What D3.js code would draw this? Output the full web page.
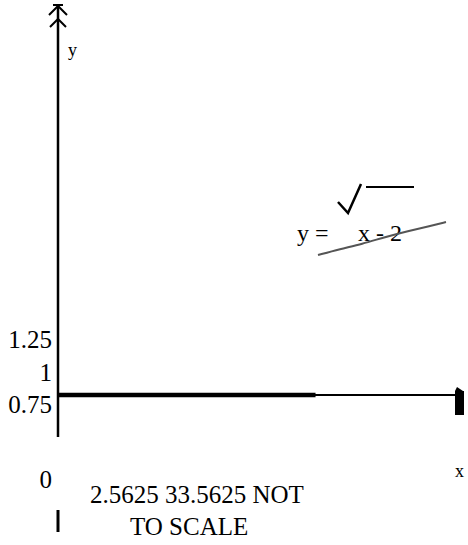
<!DOCTYPE html>
<html>
<head>
<meta charset="utf-8">
<script src="https://cdn.jsdelivr.net/npm/d3@7"></script>
<style>
  body { margin: 0; background: #fff; }
  text { font-family: 'Liberation Serif', 'DejaVu Serif', serif; fill: #000; }
</style>
</head>
<body>
<script>
const width = 468;
const height = 545;

// tick values
const yTicks = [1.25, 1, 0.75];
const xTicks = [0, 2.5625, 3, 3.5625];
// the bold part of the x axis: from 0 to the first x tick
const domainStart = 0;
const domainEnd = 2.5625;
const equation = ['y =', 'x - 2'];

const x = d3.scaleLinear().domain([0, 4]).range([58, 460]);
const y = d3.scaleLinear().domain([0.75, 1.25]).range([404, 339]);
const axisY = 395;

const svg = d3.select('body').append('svg')
  .attr('width', width)
  .attr('height', height);

// y axis, with its stacked arrow head
svg.append('line')
  .attr('x1', x(0)).attr('x2', x(0))
  .attr('y1', 5).attr('y2', 437)
  .attr('stroke', '#000').attr('stroke-width', 2.5);

const arrow = svg.append('g')
  .attr('fill', 'none').attr('stroke', '#000').attr('stroke-width', 2);
arrow.append('line')
  .attr('x1', x(0) - 5).attr('x2', x(0) + 5)
  .attr('y1', 5).attr('y2', 5);
arrow.append('path')
  .attr('d', `M${x(0) - 9},15 L${x(0)},6 L${x(0) + 9},15`);
arrow.append('path')
  .attr('d', `M${x(0) - 8},27 L${x(0)},19 L${x(0) + 8},27`);

svg.append('text')
  .attr('x', 68).attr('y', 56)
  .attr('font-size', 18)
  .text('y');

// x axis: thin line with bold stretch over the domain
svg.append('line')
  .attr('x1', x(0)).attr('x2', x(4))
  .attr('y1', axisY).attr('y2', axisY)
  .attr('stroke', '#000').attr('stroke-width', 2);
svg.append('line')
  .attr('x1', x(domainStart)).attr('x2', x(domainEnd))
  .attr('y1', axisY).attr('y2', axisY)
  .attr('stroke', '#000').attr('stroke-width', 4.5);
svg.append('rect')
  .attr('x', x(4) - 5).attr('y', axisY - 4)
  .attr('width', 9).attr('height', 24)
  .attr('fill', '#000');
svg.append('path')
  .attr('d', `M${x(4) - 5},${axisY - 4} L${x(4) - 3},${axisY - 8} L${x(4) + 3},${axisY - 4}Z`)
  .attr('fill', '#000');

svg.append('text')
  .attr('x', 455).attr('y', 477)
  .attr('font-size', 18)
  .text('x');

// y tick labels
svg.selectAll('.ytick')
  .data(yTicks)
  .enter().append('text')
    .attr('class', 'ytick')
    .attr('x', 52)
    .attr('y', d => y(d) + 9)
    .attr('text-anchor', 'end')
    .attr('font-size', 25)
    .text(d => d);

// x tick labels, crammed under the axis
svg.append('text')
  .attr('x', x(xTicks[0]) - 6).attr('y', 488)
  .attr('text-anchor', 'end')
  .attr('font-size', 25)
  .text(xTicks[0]);
svg.append('line')
  .attr('x1', x(xTicks[0])).attr('x2', x(xTicks[0]))
  .attr('y1', 510).attr('y2', 532)
  .attr('stroke', '#000').attr('stroke-width', 3);

svg.append('text')
  .attr('x', 90).attr('y', 503)
  .attr('font-size', 25)
  .text(`${xTicks[1]} ${xTicks[2]}${xTicks[3]} NOT`);
svg.append('text')
  .attr('x', 130).attr('y', 535)
  .attr('font-size', 25)
  .text('TO SCALE');

// equation label with hand drawn radical
svg.append('text')
  .attr('x', 297).attr('y', 241)
  .attr('font-size', 24)
  .text(equation[0]);
svg.append('text')
  .attr('x', 358).attr('y', 241)
  .attr('font-size', 24)
  .text(equation[1]);

svg.append('path')
  .attr('d', 'M338,202 L348,213 L361,184')
  .attr('fill', 'none').attr('stroke', '#000').attr('stroke-width', 2.5);
svg.append('line')
  .attr('x1', 366).attr('x2', 414)
  .attr('y1', 187).attr('y2', 187)
  .attr('stroke', '#000').attr('stroke-width', 2);

const scribble = [[318, 255], [340, 249], [362, 244], [385, 237], [408, 231], [430, 226], [446, 222]];
svg.append('path')
  .attr('d', d3.line().curve(d3.curveBasis)(scribble))
  .attr('fill', 'none').attr('stroke', '#555').attr('stroke-width', 2);
</script>
</body>
</html>
